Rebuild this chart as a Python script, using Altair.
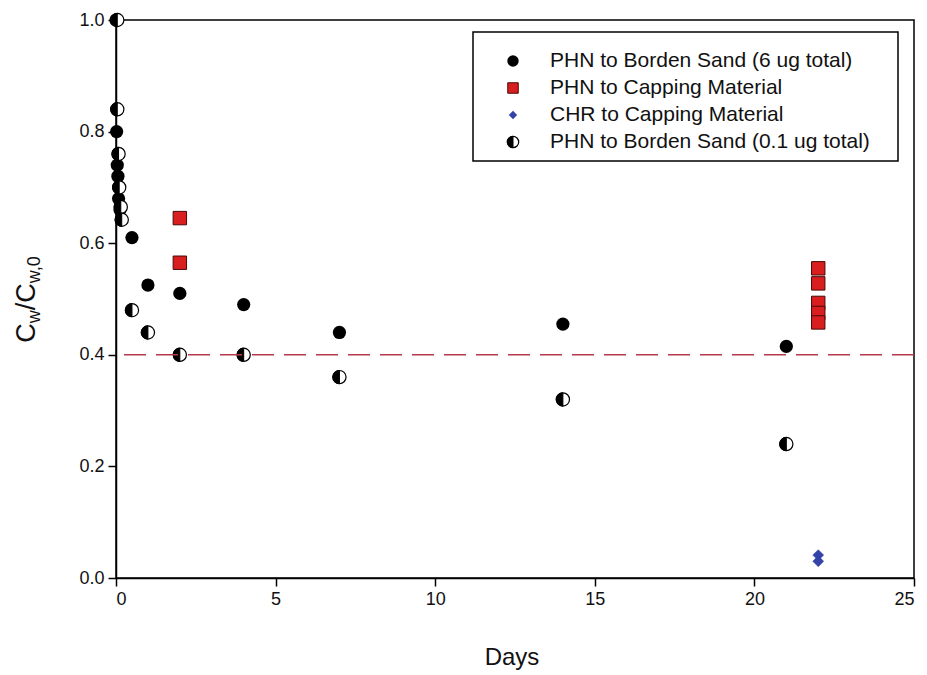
import altair as alt
import pandas as pd

# ---------------- data ----------------
phn_sand6_days = [0, 0.02, 0.04, 0.06, 0.08, 0.125, 0.5, 1, 2, 4, 7, 14, 21]
phn_sand6_ratio = [1.0, 0.80, 0.74, 0.72, 0.68, 0.66, 0.61, 0.525, 0.51, 0.49, 0.44, 0.455, 0.415]

phn_cap_days = [2, 2, 22, 22, 22, 22, 22]
phn_cap_ratio = [0.645, 0.565, 0.555, 0.528, 0.493, 0.475, 0.458]

chr_cap_days = [22, 22]
chr_cap_ratio = [0.041, 0.030]

phn_sand01_days = [0.04, 0.04, 0.08, 0.10, 0.15, 0.18, 0.5, 1, 2, 4, 7, 14, 21]
phn_sand01_ratio = [1.0, 0.84, 0.76, 0.70, 0.665, 0.642, 0.48, 0.44, 0.40, 0.40, 0.36, 0.32, 0.24]

threshold = [0.4]

x_ticks = [0, 5, 10, 15, 20, 25]
y_ticks = [0.0, 0.2, 0.4, 0.6, 0.8, 1.0]

legend_labels = [
    "PHN to Borden Sand (6 ug total)",
    "PHN to Capping Material",
    "CHR to Capping Material",
    "PHN to Borden Sand (0.1 ug total)",
]

# ---------------- styling ----------------
FONT = "Liberation Sans"
RED = "#d81e1e"
RED_EDGE = "#4a0808"
BLUE = "#3343a8"
DASH = "#b8384a"
LEFT_HALF = "M0,-1A1,1,0,0,0,0,1Z"
SZ = 175

df6 = pd.DataFrame({"days": phn_sand6_days, "ratio": phn_sand6_ratio})
dfcap = pd.DataFrame({"days": phn_cap_days, "ratio": phn_cap_ratio})
dfchr = pd.DataFrame({"days": chr_cap_days, "ratio": chr_cap_ratio})
df01 = pd.DataFrame({"days": phn_sand01_days, "ratio": phn_sand01_ratio})
one = pd.DataFrame({"k": [0]})

x_enc = alt.X("days:Q", scale=alt.Scale(domain=[0, 25], nice=False),
              axis=alt.Axis(values=x_ticks, format="d", title=None))
y_enc = alt.Y("ratio:Q", scale=alt.Scale(domain=[0, 1], nice=False),
              axis=alt.Axis(values=y_ticks, format=".1f", title=None))

filled = alt.Chart(df6).mark_point(shape="circle", filled=True, size=SZ, color="black",
                                   opacity=1).encode(x=x_enc, y=y_enc)
cap = alt.Chart(dfcap).mark_point(shape="square", filled=True, size=180, fill=RED,
                                  stroke=RED_EDGE, strokeWidth=1, opacity=1).encode(x=x_enc, y=y_enc)
chrm = alt.Chart(dfchr).mark_point(shape="diamond", filled=True, size=120, fill=BLUE,
                                   stroke=BLUE, strokeWidth=0.5, opacity=1).encode(x=x_enc, y=y_enc)
half_bg = alt.Chart(df01).mark_point(shape="circle", filled=True, size=SZ, fill="white",
                                     stroke="black", strokeWidth=1.2, opacity=1).encode(x=x_enc, y=y_enc)
half_fg = alt.Chart(df01).mark_point(shape=LEFT_HALF, filled=True, size=SZ, fill="black",
                                     stroke="black", strokeWidth=1, opacity=1).encode(x=x_enc, y=y_enc)

rule = alt.Chart(pd.DataFrame({"ratio": threshold})).mark_rule(
    color=DASH, strokeDash=[22, 10], strokeWidth=1.5).encode(y=y_enc)

# ---------------- legend (drawn by hand) ----------------
LX, LY0, LDY = 397, 41, 27
legend_layers = [
    alt.Chart(one).mark_rect(fill="white", stroke="black", strokeWidth=1.5).encode(
        x=alt.value(357), x2=alt.value(782), y=alt.value(12), y2=alt.value(141))
]
legend_layers.append(alt.Chart(one).mark_point(shape="circle", filled=True, size=130, color="black",
                                               opacity=1).encode(x=alt.value(LX), y=alt.value(LY0)))
legend_layers.append(alt.Chart(one).mark_point(shape="square", filled=True, size=110, fill=RED,
                                               stroke=RED_EDGE, strokeWidth=1, opacity=1).encode(
    x=alt.value(LX), y=alt.value(LY0 + LDY)))
legend_layers.append(alt.Chart(one).mark_point(shape="diamond", filled=True, size=70, fill=BLUE,
                                               opacity=1).encode(x=alt.value(LX), y=alt.value(LY0 + 2 * LDY)))
legend_layers.append(alt.Chart(one).mark_point(shape="circle", filled=True, size=130, fill="white",
                                               stroke="black", strokeWidth=1.2, opacity=1).encode(
    x=alt.value(LX), y=alt.value(LY0 + 3 * LDY)))
legend_layers.append(alt.Chart(one).mark_point(shape=LEFT_HALF, filled=True, size=130, fill="black",
                                               stroke="black", strokeWidth=1, opacity=1).encode(
    x=alt.value(LX), y=alt.value(LY0 + 3 * LDY)))
for i, lab in enumerate(legend_labels):
    legend_layers.append(alt.Chart(one).mark_text(
        text=lab, font=FONT, fontSize=21, align="left", baseline="middle", color="#111").encode(
        x=alt.value(434), y=alt.value(LY0 + i * LDY)))

# ---------------- axis titles ----------------
days_title = alt.Chart(one).mark_text(text="Days", font=FONT, fontSize=24, align="center",
                                      baseline="alphabetic", color="#111").encode(
    x=alt.value(396), y=alt.value(645))

MAIN, SUB = 27, 18
pieces = [("C", MAIN, 0), ("w", SUB, 5), ("/", MAIN, 0), ("C", MAIN, 0), ("w,0", SUB, 5)]
widths = {"C": 0.722, "w": 0.722, "/": 0.278, "w,0": 1.556}
total = sum(widths[t] * s for t, s, _ in pieces)
ystart = 279 + total / 2
ytitle_layers = []
for t, s, shift in pieces:
    ytitle_layers.append(alt.Chart(one).mark_text(
        text=t, font=FONT, fontSize=s, angle=270, align="left", baseline="alphabetic",
        color="#111").encode(x=alt.value(-81 + shift), y=alt.value(ystart)))
    ystart -= widths[t] * s

chart = alt.layer(
    filled, cap, chrm, half_bg, half_fg, rule, *legend_layers, days_title, *ytitle_layers
).properties(
    width=798, height=558,
    autosize=alt.AutoSizeParams(type="none"),
    padding={"left": 116, "top": 20, "right": 13, "bottom": 97},
).configure_view(
    stroke="black", strokeWidth=1.5
).configure_axis(
    labelFont=FONT, labelFontSize=18, labelColor="#111",
    domainColor="black", domainWidth=1.5, tickColor="black", tickWidth=1.5,
    tickSize=8, labelPadding=4, grid=False
)

chart.save("out.html", embed_options={"renderer": "svg", "actions": False})
